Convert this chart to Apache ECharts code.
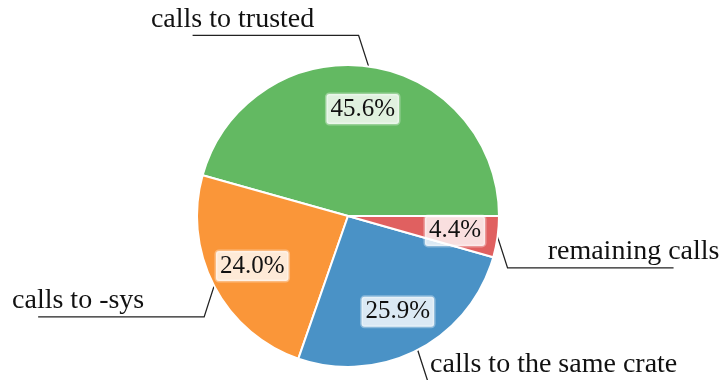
<!DOCTYPE html>
<html>
<head>
<meta charset="utf-8">
<script src="https://cdn.jsdelivr.net/npm/echarts@6/dist/echarts.min.js"></script>
<style>
  html, body { margin: 0; padding: 0; background: #fff; }
  #chart { width: 724px; height: 380px; }
</style>
</head>
<body>
<div id="chart"></div>
<script>
// Call categories and their share of all calls (percent)
const categories = ['calls to trusted', 'calls to -sys', 'calls to the same crate', 'remaining calls'];
const shares = [45.6, 24.0, 25.9, 4.4];

// Slice colours
const colors = ['#63b962', '#fa9639', '#4a92c6', '#e06060'];

// Leader line routing per slice: horizontal direction and vertical direction of the elbow
const leaderDir = [-1, -1, 1, 1];
const leaderUp = [-1, 1, 1, 1];

const FONT = '"Liberation Serif", "DejaVu Serif", serif';
const CENTER = [348, 216];
const RADIUS = 151;

const sliceData = categories.map((name, i) => ({
  name: name,
  value: shares[i],
  itemStyle: { color: colors[i] }
}));

const chart = echarts.init(document.getElementById('chart'), null, { renderer: 'canvas' });

chart.setOption({
  backgroundColor: '#ffffff',
  animation: false,
  series: [
    {
      // slices with their outer name labels and leader lines
      type: 'pie',
      center: CENTER,
      radius: RADIUS,
      startAngle: 0,
      clockwise: false,
      silent: true,
      itemStyle: { borderColor: '#ffffff', borderWidth: 2 },
      label: {
        show: true,
        position: 'outside',
        formatter: '{b}',
        fontFamily: FONT,
        fontSize: 28,
        color: '#111111',
        width: 400,
        overflow: 'none'
      },
      labelLine: {
        show: true,
        length: 20,
        length2: 100,
        lineStyle: { color: '#222222', width: 1.3 }
      },
      labelLayout: function (params) {
        const i = params.dataIndex;
        const pts = params.labelLinePoints;
        if (!pts) return {};
        const dir = leaderDir[i];
        const up = leaderUp[i];
        const p0 = pts[0];
        const p1 = [p0[0] + dir * 10, p0[1] + up * 31];
        const p2 = [p1[0] + dir * 166, p1[1]];
        return {
          x: p2[0] - dir * 40,
          y: p1[1] - 16,
          align: 'center',
          verticalAlign: 'middle',
          labelLinePoints: [p0, p1, p2]
        };
      },
      data: sliceData
    },
    {
      // percentage labels inside each slice
      type: 'pie',
      center: CENTER,
      radius: [59, RADIUS],
      startAngle: 0,
      clockwise: false,
      silent: true,
      itemStyle: { color: 'transparent', borderWidth: 0 },
      label: {
        show: true,
        position: 'inside',
        formatter: function (p) { return p.value.toFixed(1) + '%'; },
        fontFamily: FONT,
        fontSize: 25,
        color: '#111111',
        backgroundColor: 'rgba(255,255,255,0.8)',
        borderColor: 'rgba(255,255,255,0.35)',
        borderWidth: 1.5,
        borderRadius: 3,
        padding: [3, 4, 2, 4]
      },
      labelLine: { show: false },
      data: categories.map((name, i) => ({ name: name, value: shares[i] }))
    }
  ]
});
</script>
</body>
</html>
